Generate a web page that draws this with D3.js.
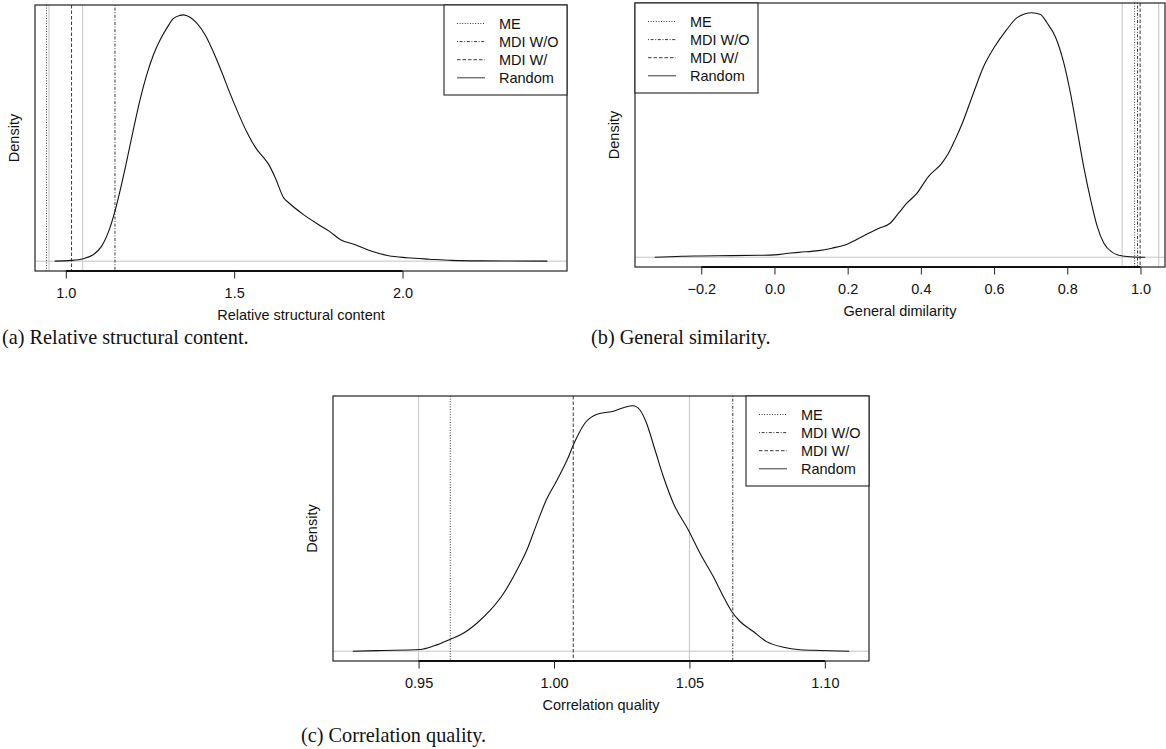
<!DOCTYPE html>
<html><head><meta charset="utf-8">
<script src="https://cdn.jsdelivr.net/npm/d3@7"></script>
<style>body{margin:0;background:#fff}svg{display:block}</style>
</head><body>
<svg id="chart" width="1166" height="749"></svg>
<script>
// ---------------- data ----------------
const legendLabels = ["ME", "MDI W/O", "MDI W/", "Random"];
const refLines = [0.95, 1.05];

// (a) Relative structural content
const aX = [0.967,1.017,1.0515,1.081,1.106,1.131,1.146,1.161,1.181,1.200,1.220,1.240,1.260,1.280,1.300,1.319,1.339,1.349,1.369,1.389,1.414,1.438,1.463,1.488,1.513,1.538,1.563,1.587,1.602,1.622,1.647,1.662,1.706,1.750,1.783,1.816,1.860,1.904,1.959,2.014,2.080,2.146,2.234,2.430];
const aDensity = [0,0.003,0.010,0.026,0.060,0.135,0.203,0.285,0.407,0.530,0.653,0.755,0.837,0.898,0.946,0.985,0.998,1.0,0.99,0.966,0.918,0.850,0.768,0.680,0.598,0.523,0.462,0.421,0.394,0.339,0.257,0.237,0.189,0.149,0.121,0.087,0.067,0.042,0.022,0.014,0.008,0.003,0.001,0];
const aMethods = [0.9426, 1.146, 1.017]; // ME, MDI W/O, MDI W/
const aTicks = [1.0, 1.5, 2.0];
const aTickLabels = ["1.0", "1.5", "2.0"];

// (b) General similarity
const bX = [-0.327,-0.253,-0.2,-0.116,-0.043,0.0,0.038,0.066,0.12,0.157,0.193,0.248,0.284,0.316,0.339,0.361,0.389,0.42,0.457,0.475,0.493,0.513,0.543,0.573,0.601,0.633,0.663,0.703,0.727,0.745,0.768,0.791,0.809,0.827,0.845,0.864,0.882,0.9,0.923,0.951,0.982,1.013];
const bDensity = [0,0.004,0.005,0.0065,0.008,0.0095,0.016,0.020,0.027,0.037,0.050,0.091,0.118,0.139,0.180,0.220,0.261,0.329,0.384,0.424,0.479,0.547,0.669,0.785,0.860,0.928,0.980,1.0,0.993,0.958,0.900,0.792,0.669,0.520,0.370,0.234,0.125,0.057,0.020,0.005,0.001,0];
const bMethods = [0.984, 0.992, 0.999];
const bTicks = [-0.2, 0.0, 0.2, 0.4, 0.6, 0.8, 1.0];
const bTickLabels = ["\u22120.2", "0.0", "0.2", "0.4", "0.6", "0.8", "1.0"];

// (c) Correlation quality
const cX = [0.9257,0.9373,0.9505,0.9558,0.9616,0.9665,0.9715,0.9764,0.9813,0.9862,0.9899,0.9936,0.9973,1.0010,1.0047,1.0078,1.0116,1.0159,1.0216,1.0259,1.0291,1.0318,1.0342,1.0373,1.0404,1.0441,1.0496,1.0539,1.0588,1.0625,1.0656,1.0687,1.0736,1.0785,1.0847,1.0908,1.0982,1.109];
const cDensity = [0,0.003,0.007,0.022,0.048,0.073,0.114,0.166,0.234,0.328,0.410,0.518,0.620,0.695,0.776,0.857,0.932,0.966,0.977,0.993,1.0,0.982,0.928,0.820,0.711,0.602,0.494,0.399,0.304,0.223,0.162,0.121,0.080,0.039,0.016,0.006,0.003,0];
const cMethods = [0.9617, 1.066, 1.0071];
const cTicks = [0.95, 1.00, 1.05, 1.10];
const cTickLabels = ["0.95", "1.00", "1.05", "1.10"];

// ---------------- styling ----------------
const SANS = "'Liberation Sans', Arial, Helvetica, sans-serif";
const SERIF = "'Liberation Serif', 'Times New Roman', serif";
const FS = 14.5;
const dashes = ["1,1.6", "1,1.6,3,1.6", "3.5,2", null]; // ME, MDI W/O, MDI W/, Random

const svg = d3.select("#chart");

function panel(cfg) {
  const g = svg.append("g");
  const x = d3.scaleLinear().domain(cfg.xDomain).range([cfg.left, cfg.left + cfg.width]);
  const y = d3.scaleLinear().domain([-0.04, 1.04]).range([cfg.top + cfg.height, cfg.top]);
  const bottom = cfg.top + cfg.height;

  const cid = "clip" + cfg.id;
  svg.append("clipPath").attr("id", cid).append("rect")
    .attr("x", cfg.left).attr("y", cfg.top).attr("width", cfg.width).attr("height", cfg.height);
  const inner = g.append("g").attr("clip-path", `url(#${cid})`);

  inner.append("line").attr("x1", cfg.left).attr("x2", cfg.left + cfg.width)
    .attr("y1", y(0)).attr("y2", y(0)).attr("stroke", "#c4c4c4").attr("stroke-width", 1);
  inner.selectAll(".ref").data(refLines).join("line")
    .attr("x1", d => x(d)).attr("x2", d => x(d))
    .attr("y1", cfg.top).attr("y2", bottom)
    .attr("stroke", "#c4c4c4").attr("stroke-width", 1);

  const pts = cfg.xs.map((v, i) => [v, cfg.ys[i]]);
  inner.append("path").datum(pts)
    .attr("d", d3.line().x(d => x(d[0])).y(d => y(d[1])).curve(d3.curveMonotoneX))
    .attr("fill", "none").attr("stroke", "#111").attr("stroke-width", 1.1);

  inner.selectAll(".m").data(cfg.methods).join("line")
    .attr("x1", d => x(d)).attr("x2", d => x(d))
    .attr("y1", cfg.top).attr("y2", bottom)
    .attr("stroke", "#222").attr("stroke-width", 0.9)
    .attr("stroke-dasharray", (d, i) => dashes[i]);

  g.append("rect").attr("x", cfg.left).attr("y", cfg.top)
    .attr("width", cfg.width).attr("height", cfg.height)
    .attr("fill", "none").attr("stroke", "#222").attr("stroke-width", 1.2);

  const axis = d3.axisBottom(x).tickValues(cfg.ticks)
    .tickFormat((d, i) => cfg.tickLabels[i]).tickSize(7.5).tickPadding(6);
  const ax = g.append("g").attr("transform", `translate(0,${bottom})`).call(axis);
  ax.select(".domain").attr("d", `M${x(cfg.ticks[0])},0H${x(cfg.ticks[cfg.ticks.length - 1])}`)
    .attr("stroke", "#111").attr("stroke-width", 1.8);
  ax.selectAll(".tick line").attr("stroke", "#222").attr("stroke-width", 1);
  ax.selectAll(".tick text").attr("font-family", SANS).attr("font-size", FS).attr("fill", "#111")
    .attr("y", null).attr("dy", null).attr("dominant-baseline", "alphabetic")
    .attr("transform", "translate(0,27)");

  g.append("text").attr("x", cfg.left + cfg.width / 2).attr("y", bottom + 49)
    .attr("text-anchor", "middle").attr("font-family", SANS).attr("font-size", FS)
    .attr("fill", "#111").text(cfg.xTitle);
  g.append("text")
    .attr("transform", `translate(${cfg.left - 21},${cfg.top + cfg.height / 2}) rotate(-90)`)
    .attr("text-anchor", "middle").attr("dominant-baseline", "central")
    .attr("font-family", SANS).attr("font-size", FS).attr("fill", "#111").text("Density");

  const lw = 123, lh = 90;
  const lx = cfg.legendRight ? cfg.left + cfg.width - lw : cfg.left;
  const ly = cfg.top;
  const lg = g.append("g");
  lg.append("rect").attr("x", lx).attr("y", ly).attr("width", lw).attr("height", lh)
    .attr("fill", "#fff").attr("stroke", "#222").attr("stroke-width", 1.1);
  legendLabels.forEach((lab, i) => {
    const yy = ly + 18.5 + i * 18.1;
    lg.append("line").attr("x1", lx + 13).attr("x2", lx + 41).attr("y1", yy).attr("y2", yy)
      .attr("stroke", "#222").attr("stroke-width", 0.9)
      .attr("stroke-dasharray", dashes[i]);
    lg.append("text").attr("x", lx + 55).attr("y", yy).attr("dominant-baseline", "central")
      .attr("font-family", SANS).attr("font-size", FS).attr("fill", "#111").text(lab);
  });

  svg.append("text").attr("x", cfg.capX).attr("y", cfg.capY)
    .attr("font-family", SERIF).attr("font-size", 20.3).attr("fill", "#111").text(cfg.caption);
}

panel({id: "a", left: 35, top: 5, width: 532, height: 266,
  xDomain: [0.9085, 2.4885], xs: aX, ys: aDensity, methods: aMethods,
  ticks: aTicks, tickLabels: aTickLabels, xTitle: "Relative structural content",
  legendRight: true, caption: "(a) Relative structural content.", capX: 2, capY: 344});

panel({id: "b", left: 635, top: 3, width: 530, height: 264,
  xDomain: [-0.381, 1.067], xs: bX, ys: bDensity, methods: bMethods,
  ticks: bTicks, tickLabels: bTickLabels, xTitle: "General dimilarity",
  legendRight: false, caption: "(b) General similarity.", capX: 591, capY: 344});

panel({id: "c", left: 333, top: 396, width: 536, height: 265,
  xDomain: [0.9184, 1.1163], xs: cX, ys: cDensity, methods: cMethods,
  ticks: cTicks, tickLabels: cTickLabels, xTitle: "Correlation quality",
  legendRight: true, caption: "(c) Correlation quality.", capX: 301, capY: 742});
</script>
</body></html>
